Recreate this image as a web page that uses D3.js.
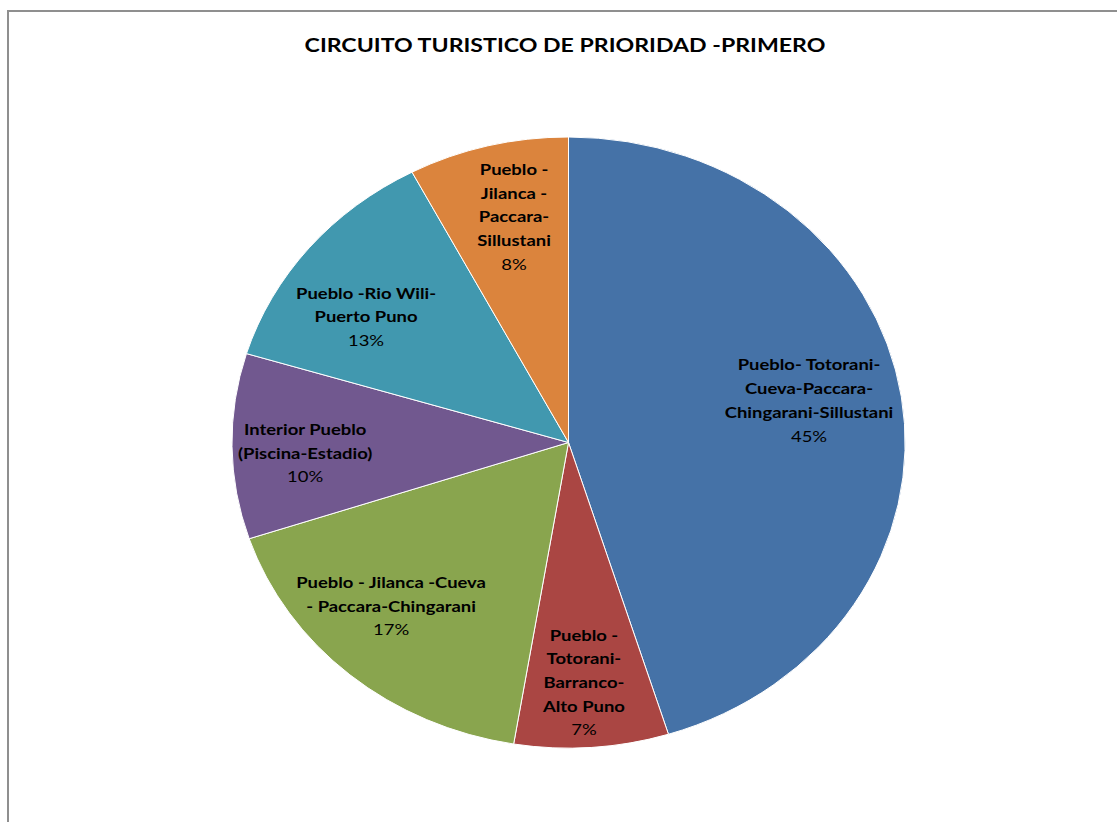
<!DOCTYPE html>
<html><head><meta charset="utf-8">
<script src="https://cdn.jsdelivr.net/npm/d3@7"></script>
<style>
html,body{margin:0;padding:0;background:#fff;}
svg{display:block;}
</style></head>
<body>
<svg id="chart" width="1117" height="822"></svg>
<script>
const title = "CIRCUITO TURISTICO DE PRIORIDAD -PRIMERO";
const categories = [
  "Pueblo-Totorani-Cueva-Paccara-Chingarani-Sillustani",
  "Pueblo -Totorani-Barranco-Alto Puno",
  "Pueblo - Jilanca -Cueva - Paccara-Chingarani",
  "Interior Pueblo (Piscina-Estadio)",
  "Pueblo -Rio Wili-Puerto Puno",
  "Pueblo - Jilanca - Paccara-Sillustani"
];
const labelLines = [
  ["Pueblo- Totorani-", "Cueva-Paccara-", "Chingarani-Sillustani"],
  ["Pueblo -", "Totorani-", "Barranco-", "Alto Puno"],
  ["Pueblo - Jilanca -Cueva", "- Paccara-Chingarani"],
  ["Interior Pueblo", "(Piscina-Estadio)"],
  ["Pueblo -Rio Wili-", "Puerto Puno"],
  ["Pueblo -", "Jilanca -", "Paccara-", "Sillustani"]
];
const values = [45.2, 7.4, 17.3, 9.8, 12.6, 7.7];
const colors = ["#4572A7", "#AA4643", "#89A54E", "#71588F", "#4198AF", "#DB843D"];

// layout: small label nudges (px) from the slice centroid, as placed by the original tool
const labelNudge = [[-9, -7.5], [-2, 11.5], [-13.5, -10.5], [-11, 8], [-8, 20.5], [6, -3]];

const svg = d3.select("#chart");
const W = 1117, H = 822;
const cx = 568.5, cy = 442.5, rx = 336.5, ry = 305.5;
const font = "Lato, 'Open Sans', 'DejaVu Sans', sans-serif";
const sx = 1.19;

svg.append("rect").attr("x", 8).attr("y", 11).attr("width", W + 20).attr("height", H + 20)
  .attr("fill", "#fff").attr("stroke", "#8f8f8f").attr("stroke-width", 2);

svg.append("text").attr("transform", `translate(565,52) scale(1.25,1)`).attr("text-anchor", "middle")
  .attr("font-family", font).attr("font-weight", "bold").attr("font-size", 18.5)
  .attr("fill", "#000").text(title);

const total = d3.sum(values);
const pie = d3.pie().sort(null).value(d => d)(values);
const arc = d3.arc().innerRadius(0).outerRadius(1);
const labelArc = d3.arc().innerRadius(0.75).outerRadius(0.75);

const g = svg.append("g").attr("transform", `translate(${cx},${cy}) scale(${rx},${ry})`);
g.selectAll("path").data(pie).join("path")
  .attr("d", arc)
  .attr("fill", (d, i) => colors[i])
  .attr("stroke", "#fff").attr("stroke-width", 1)
  .attr("vector-effect", "non-scaling-stroke");

const fmt = d3.format(".0%");
const lineH = 23.7;
const lg = svg.append("g");
pie.forEach((d, i) => {
  const c = labelArc.centroid(d);
  const x = cx + c[0] * rx + labelNudge[i][0], y = cy + c[1] * ry + labelNudge[i][1];
  const lines = labelLines[i].concat([fmt(values[i] / total)]);
  const t = lg.append("text").attr("text-anchor", "middle")
    .attr("transform", `translate(${x},${y}) scale(${sx},1)`)
    .attr("font-family", font).attr("font-size", 15.5).attr("fill", "#000");
  const y0 = -(lines.length - 1) * lineH / 2;
  lines.forEach((s, k) => {
    t.append("tspan").attr("x", 0).attr("y", y0 + k * lineH).attr("dy", "0.35em")
      .attr("font-weight", k < lines.length - 1 ? "bold" : "normal").text(s);
  });
});
</script>
</body></html>
